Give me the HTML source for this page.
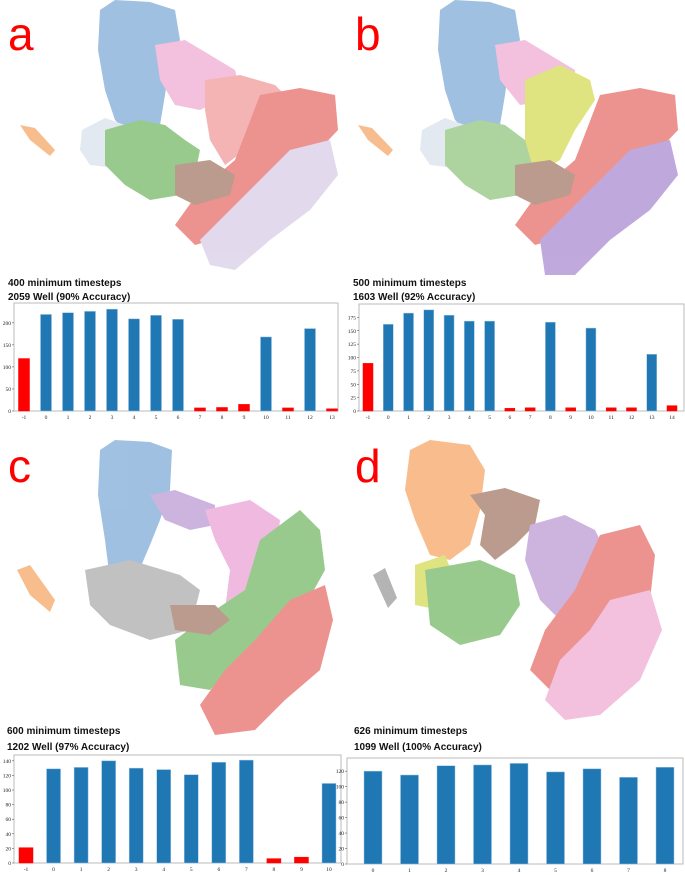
<!DOCTYPE html>
<html><head><meta charset="utf-8">
<style>
body{margin:0;background:#fff;width:685px;height:875px;overflow:hidden;font-family:"Liberation Sans",sans-serif}
svg{position:absolute;left:0;top:0}
</style></head>
<body>
<svg id="s" width="685" height="875">
<g opacity="0.85">
<path d="M20,125 L35,128 L55,150 L50,156 L30,140Z" fill="#f6b27a"/>
<path d="M100,10 L115,0 L150,2 L175,10 L180,40 L170,60 L165,95 L160,125 L130,135 L115,120 L105,90 L98,50Z" fill="#8fb6dc"/>
<path d="M82,130 L105,118 L125,125 L128,150 L115,168 L90,165 L80,150Z" fill="#dfe6ee"/>
<path d="M105,130 L140,120 L165,125 L185,140 L200,150 L195,175 L180,195 L150,200 L125,185 L105,165Z" fill="#88c17a"/>
<path d="M155,45 L185,40 L210,55 L235,70 L240,90 L220,100 L200,110 L175,105 L160,80Z" fill="#f1b7d9"/>
<path d="M205,80 L240,75 L275,85 L290,100 L270,120 L245,150 L225,165 L210,140 L205,110Z" fill="#f4a8a8"/>
<path d="M260,95 L300,88 L335,95 L338,130 L300,170 L260,210 L230,235 L195,245 L175,225 L200,190 L235,160Z" fill="#e9807c"/>
<path d="M175,165 L210,160 L235,175 L230,195 L195,205 L175,195Z" fill="#b08a7a"/>
<path d="M290,150 L330,140 L338,175 L310,210 L270,240 L235,270 L210,265 L200,240 L230,210 L260,180Z" fill="#ddd3ea"/>
</g>
<g opacity="0.85">
<path d="M358,125 L372,128 L393,150 L388,156 L368,140Z" fill="#f6b27a"/>
<path d="M440,10 L455,0 L490,2 L515,10 L520,40 L510,60 L505,95 L500,125 L470,135 L455,120 L445,90 L438,50Z" fill="#8fb6dc"/>
<path d="M422,130 L445,118 L465,125 L468,150 L455,168 L430,165 L420,150Z" fill="#dfe6ee"/>
<path d="M445,130 L480,120 L505,125 L525,140 L540,150 L535,175 L520,195 L490,200 L465,185 L445,165Z" fill="#9fcc8e"/>
<path d="M495,45 L525,40 L550,55 L575,70 L575,90 L555,100 L520,105 L500,80Z" fill="#f1b7d9"/>
<path d="M525,80 L560,65 L590,80 L595,100 L575,130 L560,160 L535,175 L525,140Z" fill="#dbe06a"/>
<path d="M600,95 L640,88 L675,95 L678,130 L640,170 L600,210 L570,235 L535,245 L515,225 L540,190 L575,160Z" fill="#e9807c"/>
<path d="M515,165 L550,160 L575,175 L570,195 L535,205 L515,195Z" fill="#b08a7a"/>
<path d="M630,150 L670,140 L678,175 L650,210 L610,240 L575,275 L545,275 L540,240 L570,210 L600,180Z" fill="#b59ad6"/>
</g>
<g opacity="0.85">
<path d="M17,570 L30,565 L55,600 L50,612 L30,595Z" fill="#f6b27a"/>
<path d="M100,450 L115,440 L150,442 L172,450 L170,490 L160,520 L150,545 L135,580 L110,580 L105,540 L98,495Z" fill="#8fb6dc"/>
<path d="M150,495 L175,490 L215,505 L215,525 L190,530 L165,520Z" fill="#c5a7da"/>
<path d="M205,510 L250,500 L280,520 L275,560 L255,600 L225,610 L230,570 L215,540Z" fill="#eeaedb"/>
<path d="M85,570 L130,560 L180,575 L200,590 L190,630 L150,640 L110,625 L90,605Z" fill="#b7b7b7"/>
<path d="M260,540 L300,510 L320,530 L325,570 L300,615 L250,650 L210,690 L180,685 L175,640 L215,610 L245,590Z" fill="#88c17a"/>
<path d="M170,605 L215,605 L230,620 L210,635 L175,630Z" fill="#b08a7a"/>
<path d="M290,600 L325,585 L333,620 L320,670 L285,700 L255,730 L215,735 L200,705 L225,670 L255,640Z" fill="#e9807c"/>
</g>
<g opacity="0.85">
<path d="M373,575 L385,568 L397,598 L388,608Z" fill="#a8a8a8"/>
<path d="M410,450 L430,440 L470,445 L485,470 L480,510 L470,545 L450,560 L430,555 L415,520 L405,490Z" fill="#f8b27a"/>
<path d="M470,495 L505,488 L540,500 L535,525 L515,545 L495,560 L480,545 L485,515Z" fill="#b08a7a"/>
<path d="M530,525 L565,515 L595,530 L610,560 L595,600 L560,620 L540,600 L525,560Z" fill="#c5a7da"/>
<path d="M415,565 L445,555 L455,580 L440,610 L415,605Z" fill="#dbe06a"/>
<path d="M425,570 L480,560 L515,575 L520,605 L500,635 L460,645 L430,625Z" fill="#88c17a"/>
<path d="M600,535 L640,525 L655,555 L650,600 L615,640 L575,670 L550,690 L530,670 L545,630 L575,590Z" fill="#e9807c"/>
<path d="M610,600 L650,590 L662,630 L640,680 L600,715 L565,720 L545,700 L560,660 L590,630Z" fill="#f1b7d9"/>
</g>
<g font-family="Liberation Sans" font-size="46" fill="#f00">
<text x="8" y="50">a</text>
<text x="355" y="50">b</text>
<text x="8" y="482">c</text>
<text x="355" y="482">d</text>
</g>
<g font-family="Liberation Sans" font-size="10" font-weight="bold" fill="#111">
<text x="8" y="286">400 minimum timesteps</text>
<text x="8" y="300">2059 Well (90% Accuracy)</text>
<text x="353" y="286">500 minimum timesteps</text>
<text x="353" y="300">1603 Well (92% Accuracy)</text>
<text x="7" y="734">600 minimum timesteps</text>
<text x="7" y="750">1202 Well (97% Accuracy)</text>
<text x="354" y="734">626 minimum timesteps</text>
<text x="354" y="750">1099 Well (100% Accuracy)</text>
</g>
<g id="charts"></g>
</svg>
<script>
const catsA=["-1","0","1","2","3","4","5","6","7","8","9","10","11","12","13"];
const valsA=[119,219,223,226,231,209,217,208,7,8,15,168,7,187,5];
const ticksA=[0,50,100,150,200];
const catsB=["-1","0","1","2","3","4","5","6","7","8","9","10","11","12","13","14"];
const valsB=[89,162,183,189,179,168,168,5,6,166,6,155,6,6,106,10];
const ticksB=[0,25,50,75,100,125,150,175];
const catsC=["-1","0","1","2","3","4","5","6","7","8","9","10"];
const valsC=[21,129,131,140,130,128,121,138,141,6,8,109];
const ticksC=[0,20,40,60,80,100,120,140];
const catsD=["0","1","2","3","4","5","6","7","8"];
const valsD=[120,115,127,128,130,119,123,112,125];
const ticksD=[0,20,40,60,80,100,120];
const NS="http://www.w3.org/2000/svg";
const root=document.getElementById('charts');
function mk(tag,attrs,parent){const e=document.createElementNS(NS,tag);for(const k in attrs)e.setAttribute(k,attrs[k]);parent.appendChild(e);return e;}
function chart(id,cats,vals,ticks,fx0,fx1,fy0,fy1,yMax,c0,c1,bw){
  const g=mk('g',{},root);
  
  
  const y=v=>fy1-v/yMax*(fy1-fy0);
  const x=i=>c0+i*(c1-c0)/(cats.length-1);
  const fr=mk('rect',{x:fx0,y:fy0,width:fx1-fx0,height:fy1-fy0,fill:'#fff',stroke:'#bbb','stroke-width':1},g);
  
  
  ticks.forEach(t=>{
    const tx=mk('text',{x:fx0-3,y:y(t)+2,'font-size':5.5,'text-anchor':'end','font-family':'Liberation Serif',fill:'#222'},g);
    tx.textContent=t;
    
    
    mk('line',{x1:fx0-2,x2:fx0,y1:y(t),y2:y(t),stroke:'#444','stroke-width':0.5},g);
  });
  cats.forEach((c,i)=>{
    const red=(c==="-1"||vals[i]<20);
    const r=mk('rect',{x:x(i)-bw/2,y:y(vals[i]),width:bw,height:fy1-y(vals[i]),fill:red?'#ff0000':'#1f77b4',stroke:red?'#ff0000':'#9cc3e3','stroke-width':0.5},g);
    
    
    const tx=mk('text',{x:x(i),y:fy1+8,'font-size':5.5,'text-anchor':'middle','font-family':'Liberation Serif',fill:'#222'},g);
    tx.textContent=c;
    
    
  });
}
chart('a',catsA,valsA,ticksA,14,338,303,411,245,24,332,11);
chart('b',catsB,valsB,ticksB,359,684,304,411,200,368,672,10);
chart('c',catsC,valsC,ticksC,14,341,755,863,148,26,329,14);
chart('d',catsD,valsD,ticksD,347,683,758,864,137,373,665,18);
</script>
</body></html>
